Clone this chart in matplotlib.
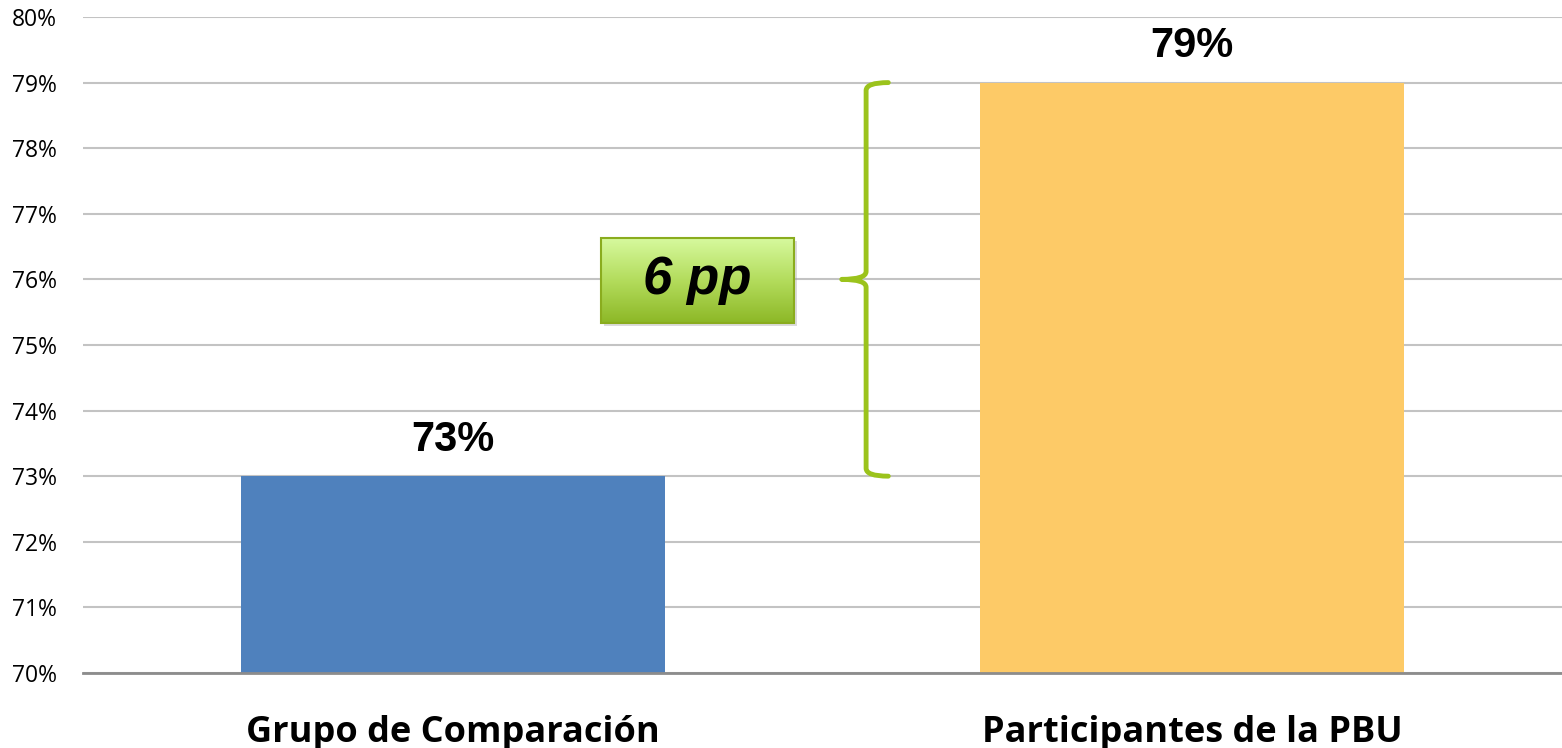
import numpy as np
import matplotlib.pyplot as plt
from matplotlib.path import Path
from matplotlib.patches import PathPatch, Rectangle
from matplotlib.colors import LinearSegmentedColormap

# data
categories = ['Grupo de Comparación', 'Participantes de la PBU']
values = [73, 79]
bar_colors = ['#4f81bd', '#fdca67']
yticks = list(range(70, 81))
diff_label = '6 pp'

fig = plt.figure(figsize=(15.62, 7.48), dpi=100)
ax = fig.add_axes([0.0531, 0.1003, 0.9469, 0.877])

x = np.arange(len(categories))
ax.bar(x, values, width=0.573, color=bar_colors, zorder=2)

for xi, v in zip(x, values):
    ax.text(xi, v + 0.55, f'{v}%', ha='center', va='center', fontsize=30,
            fontweight='bold', family='Liberation Sans')

ax.set_xlim(-0.5, 1.5)
ax.set_ylim(70, 80)
ax.set_yticks(yticks)
ax.set_yticklabels([f'{t}%' for t in yticks], fontsize=16.5, family='Open Sans')
ax.set_xticks(x)
ax.set_xticklabels(categories, fontsize=26, fontweight='bold', family='Open Sans')
ax.tick_params(axis='y', length=0, pad=19)
ax.tick_params(axis='x', length=0, pad=30)
ax.grid(axis='y', color='#c3c3c3', linewidth=1.5, zorder=0)
for s in ['left', 'right', 'top']:
    ax.spines[s].set_visible(False)
ax.spines['bottom'].set_color('#8c8c8c')
ax.spines['bottom'].set_linewidth(2)
ax.spines['bottom'].set_zorder(3)

# brace between the two values
xb, lo, hi = 0.559, values[0], values[1]
mid = (lo + hi) / 2
dx = 0.03
dy = 0.12
verts = [
    (xb + dx, hi), (xb, hi), (xb, hi - dy),
    (xb, mid + dy),
    (xb, mid), (xb - dx * 1.1, mid),
    (xb, mid), (xb, mid - dy),
    (xb, lo + dy),
    (xb, lo), (xb + dx, lo),
]
codes = [Path.MOVETO, Path.CURVE3, Path.CURVE3, Path.LINETO,
         Path.CURVE3, Path.CURVE3, Path.CURVE3, Path.CURVE3,
         Path.LINETO, Path.CURVE3, Path.CURVE3]
ax.add_patch(PathPatch(Path(verts, codes), facecolor='none', edgecolor='#9bc31c',
                       linewidth=3.5, capstyle='round', joinstyle='round', zorder=4))

# green label box with gradient
bx0, bx1, by0, by1 = 0.201, 0.461, 75.34, 76.63
ax.add_patch(Rectangle((bx0 + 0.004, by0 - 0.05), bx1 - bx0, by1 - by0,
                       facecolor='#999999', alpha=0.35, edgecolor='none', zorder=4))
cmap = LinearSegmentedColormap.from_list('g', ['#8db827', '#b3dc5c', '#d6f99d'])
grad = np.linspace(0, 1, 100).reshape(-1, 1)
ax.imshow(grad, extent=[bx0, bx1, by0, by1], origin='lower', cmap=cmap,
          aspect='auto', zorder=5)
ax.add_patch(Rectangle((bx0, by0), bx1 - bx0, by1 - by0, facecolor='none',
                       edgecolor='#8aac1e', linewidth=1.5, zorder=6))
ax.text((bx0 + bx1) / 2, (by0 + by1) / 2, diff_label, ha='center', va='center',
        fontsize=38, fontweight='bold', fontstyle='italic', family='Liberation Sans',
        zorder=7)
ax.set_xlim(-0.5, 1.5)
ax.set_ylim(70, 80)

fig.savefig('out.png', dpi=100)
